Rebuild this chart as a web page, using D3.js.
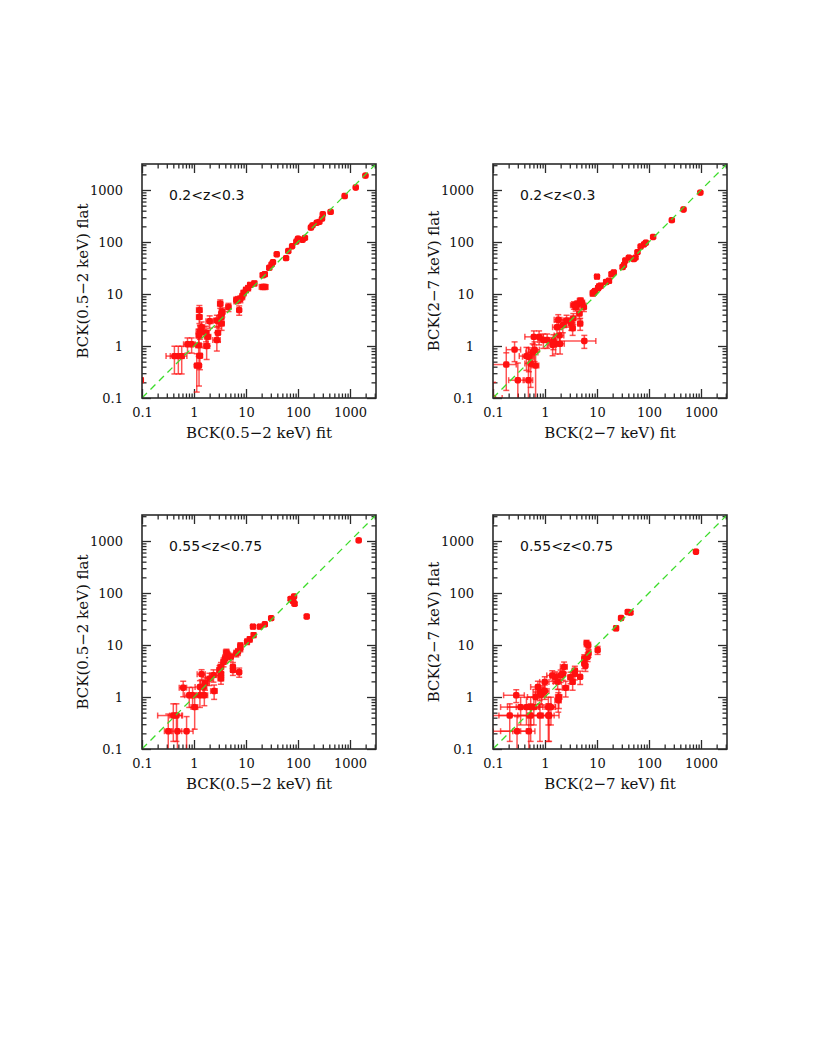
<!DOCTYPE html>
<html>
<head>
<meta charset="utf-8">
<script src="https://cdn.jsdelivr.net/npm/d3@7"></script>
<style>
  body { margin: 0; background: #fff; }
</style>
</head>
<body>
<div id="chart"></div>
<script>
//---------------- page size -----------------//
var width = 817
var height = 1058
var size = 234      // side of each square panel
//--------------------------------------------//

//---------------- axis ticks ----------------//
var majorTicks = [0.1, 1, 10, 100, 1000];
var tickLabels = ['0.1', '1', '10', '100', '1000'];
//--------------------------------------------//

//---------- panel 1 : 0.2<z<0.3, 0.5-2 keV -----------//
var p1Fit = [1980,1290,790,424,300,290,257,230,190,177,136,122,100,93,77,65,59,39,33,31,28,23,21,23,21,14.5,12,11,10,9,8.5,7.8,7,6.5,7.4,4.6,3.5,3.2,3.4,3.3,3.0,2.75,3.4,2.75,2.9,2.0,1.7,1.85,1.75,1.4,1.27,1.27,1.3,1.25,1.23,1.3,1.13,1.25,0.9,0.75,0.58,0.5,0.42,0.095];
var p1Flat = [1890,1120,765,380,343,282,244,235,209,190,120,110,116,102,83,67,49,58,41,37,32,24,23,13.7,13.7,16,15,13,12,10.5,9,8,7.8,7.6,4.9,5.6,4.5,6.5,4.2,3.6,3.0,3.1,2.7,1.3,1.8,3.0,1.8,1.5,1.0,2.3,4.9,3.6,1.9,1.6,1.03,0.65,0.42,0.42,1.08,1.08,0.64,0.64,0.64,0.22];
var p1FitErr = [20,15,10,6,5,5,4,4,3,3,3,3,2.5,2.5,2,2,2,1.5,1.5,1.5,1.3,2,2,3.5,3,1.2,1,1,1,0.9,0.8,0.7,0.7,0.6,0.6,0.5,0.4,0.35,0.4,0.4,0.35,0.35,0.4,0.45,0.3,0.3,0.25,0.25,0.25,0.2,0.15,0.15,0.2,0.15,0.15,0.15,0.1,0.1,0.15,0.12,0.15,0.15,0.13,0.01];
var p1FlatErr = [25,20,12,8,8,7,6,6,5,5,4,4,4,4,3,3,3,3,2.5,2.5,2.5,2,2,1.5,1.5,1.6,1.5,1.5,1.4,1.3,1.2,1.2,1.1,1.1,1,1,0.9,1.2,0.9,0.8,0.8,0.8,0.7,0.5,0.6,0.8,0.6,0.5,0.45,0.6,1.1,0.9,0.55,0.5,0.4,0.3,0.29,0.25,0.35,0.35,0.35,0.35,0.35,0.02];

//---------- panel 2 : 0.2<z<0.3, 2-7 keV -----------//
var p2Fit = [970,461,275,120,87,80,69,60,55,51,41,35,33,31,21,19,17,15,10,11.8,11,10.5,9.2,8.7,8.3,4.8,5.7,4.75,4.6,4.2,3.6,5.2,5.6,3.9,3.5,3.2,3.4,2.6,2.2,1.8,1.7,1.9,1.95,1.6,1.4,1.45,1.1,0.93,0.77,0.61,0.63,0.58,0.44,0.49,0.53,0.66,0.48,0.3,0.26,0.18,0.1];
var p2Flat = [890,423,263,125,97,90,82,64,50,47,50,44,36,33,26,24,18,17,21.6,14.5,14,13,11.4,10.7,10.3,7.4,1.25,2.7,4.2,6.4,6.1,6.6,5.6,5.6,3.4,2.7,2.2,3.1,2.5,3.2,2.3,1.6,1.1,1.1,1.05,1.25,1.3,1.3,1.5,1.5,0.85,0.75,0.64,0.62,0.46,0.42,0.22,0.22,0.85,0.44,0.1];
var p2FitErr = [20,10,6,4,3,3,3,3,2.5,2.5,2,2,2,2,1.5,1.5,1.3,1.2,0.8,1,1,1,0.9,0.8,0.8,0.6,3.8,0.5,0.5,0.5,0.5,0.5,0.5,0.4,0.4,0.4,0.4,0.35,0.35,0.3,0.3,0.4,0.4,0.3,0.25,0.25,0.3,0.2,0.15,0.2,0.15,0.15,0.12,0.12,0.12,0.1,0.1,0.1,0.08,0.1,0.05];
var p2FlatErr = [25,12,8,5,4,4,4,3,3,3,3,3,2.5,2.5,2,2,1.6,1.5,1.8,1.4,1.4,1.3,1.2,1.2,1.2,1,0.35,0.7,0.9,1,1,1,1,0.9,0.8,0.7,0.6,0.8,0.7,0.8,0.6,0.5,0.4,0.4,0.4,0.4,0.4,0.4,0.45,0.45,0.35,0.35,0.3,0.3,0.3,0.35,0.25,0.25,0.35,0.3,0.1];

//---------- panel 3 : 0.55<z<0.75, 0.5-2 keV -----------//
var p3Fit = [1470,147,84,72,81,86,78,30.5,23,18.4,13.6,14,11.8,10.5,7.8,7.8,7,6.5,7.4,5.6,5.6,5.1,4.4,4.2,3.95,3.7,3.3,3.1,3.3,3.3,2.37,2.44,1.98,1.63,1.4,1.5,1.3,1.58,1.3,0.94,0.81,1.03,0.62,0.46,0.4,0.32,0.48,0.72];
var p3Flat = [1030,35.3,86,77,69,62,72,32.8,25,22.6,22.6,15.5,12.9,11.6,9.7,8.6,7.4,6.9,3.0,3.3,3.8,5.9,6.4,7.2,5.5,4.7,3.8,3.3,2.8,2.26,2.63,1.3,2.26,1.85,2.75,1.56,1.56,1.08,1.08,1.08,1.08,0.64,1.51,0.44,0.44,0.22,0.22,0.22];
var p3FitErr = [25,5,3,3,3,3,3,1.5,1.3,1,1,1,0.9,0.8,0.7,0.7,0.6,0.6,0.6,0.5,0.5,0.5,0.5,0.5,0.4,0.4,0.4,0.35,0.4,0.4,0.35,0.35,0.3,0.3,0.25,0.25,0.25,0.25,0.2,0.15,0.15,0.15,0.1,0.12,0.2,0.05,0.1,0.24];
var p3FlatErr = [30,2,5,5,4,4,4,2.5,2,2,2,1.6,1.5,1.4,1.3,1.2,1.1,1,0.6,0.7,0.8,1,1,1.1,0.9,0.9,0.8,0.7,0.7,0.5,0.7,0.4,0.6,0.5,0.6,0.5,0.5,0.4,0.45,0.45,0.45,0.4,0.5,0.3,0.3,0.25,0.25,0.2];

//---------- panel 4 : 0.55<z<0.75, 2-7 keV -----------//
var p4Fit = [800,44,39,29,23.3,10.3,6.3,6.8,6.9,6.6,5.7,5.7,6.0,4.75,3.75,3.75,3.4,3.1,2.33,2.2,2.0,1.56,1.38,1.75,2.5,1.8,1.85,0.99,0.73,0.79,0.66,0.85,0.99,0.61,0.53,0.44,0.34,0.28,0.21,0.53,0.8,1.16,1.2,0.29,0.49,0.09,1.16,1.3];
var p4Flat = [622,42,43,33,21,8,10.8,9.8,6.9,5.9,5.5,4.4,4.0,2.44,2.83,3.2,1.95,2.4,3.8,2.8,2.6,2.44,2.6,1.95,1.5,0.86,1.0,1.95,1.56,1.25,1.0,1.1,1.3,0.64,0.64,0.64,0.64,1.08,0.44,0.44,0.44,0.44,0.44,0.22,0.22,0.22,0.64,0.64];
var p4FitErr = [25,2,2,1.5,1.2,0.6,0.5,0.5,0.5,0.5,0.5,0.5,0.5,0.4,0.4,0.4,0.35,0.35,0.35,0.3,0.3,0.3,0.3,0.3,0.35,0.25,0.25,0.2,0.2,0.2,0.2,0.2,0.2,0.3,0.25,0.25,0.2,0.12,0.25,0.4,0.5,0.7,0.3,0.15,0.15,0.15,0.4,0.3];
var p4FlatErr = [25,3,3,2.5,2,1.4,1.5,1.5,1.1,1.1,1,0.9,0.9,0.7,0.7,0.7,0.6,0.6,0.9,0.7,0.7,0.6,0.6,0.55,0.5,0.35,0.4,0.5,0.45,0.4,0.4,0.4,0.4,0.35,0.35,0.35,0.35,0.3,0.3,0.3,0.3,0.3,0.3,0.2,0.2,0.2,0.35,0.35];
//------------------------------------------------------//

var panels = [
  {left: 142, top: 164, fit: p1Fit, flat: p1Flat, fitErr: p1FitErr, flatErr: p1FlatErr, band: '0.5\u22122 keV', zlab: '0.2<z<0.3'},
  {left: 493, top: 164, fit: p2Fit, flat: p2Flat, fitErr: p2FitErr, flatErr: p2FlatErr, band: '2\u22127 keV', zlab: '0.2<z<0.3'},
  {left: 142, top: 515, fit: p3Fit, flat: p3Flat, fitErr: p3FitErr, flatErr: p3FlatErr, band: '0.5\u22122 keV', zlab: '0.55<z<0.75'},
  {left: 493, top: 515, fit: p4Fit, flat: p4Flat, fitErr: p4FitErr, flatErr: p4FlatErr, band: '2\u22127 keV', zlab: '0.55<z<0.75'}
];

//-------------------svg element ---------------//
var svg = d3.select('#chart').append('svg')
            .attr('width', width)
            .attr('height', height)
            .style('background', '#fff');

var frameColor = '#2b2b2b';
var red = '#ff1010';

panels.forEach(function(p, k){
  var x = d3.scaleLog().domain([0.1, 3162.3]).range([0, size]);
  var y = d3.scaleLog().domain([0.1, 3162.3]).range([size, 0]);
  var minor = x.ticks().filter(function(t){ return majorTicks.indexOf(t) < 0; });

  var g = svg.append('g').attr('transform', 'translate(' + p.left + ',' + p.top + ')');

  g.append('clipPath').attr('id', 'clip' + k)
    .append('rect').attr('width', size).attr('height', size);

  //---------- ticks (inward, all four sides) ----------//
  function addAxis(gen, scale, vals, len, tr, labels, pad){
    var a = gen(scale).tickValues(vals).tickSizeInner(-len).tickSizeOuter(0).tickPadding(pad || 3)
          .tickFormat(labels ? function(d, i){ return labels[i]; } : '');
    var ax = g.append('g').attr('transform', tr).call(a);
    ax.select('.domain').remove();
    ax.selectAll('line').attr('stroke', frameColor).attr('stroke-width', 1.3);
    ax.selectAll('text').attr('fill', '#111')
      .style('font-family', '"DejaVu Serif", serif').style('font-size', '13px');
  }
  addAxis(d3.axisBottom, x, majorTicks, 9, 'translate(0,' + size + ')', tickLabels, 10);
  addAxis(d3.axisBottom, x, minor, 4.5, 'translate(0,' + size + ')');
  addAxis(d3.axisTop, x, majorTicks, 9, 'translate(0,0)');
  addAxis(d3.axisTop, x, minor, 4.5, 'translate(0,0)');
  addAxis(d3.axisLeft, y, majorTicks, 9, 'translate(0,0)', tickLabels, 19);
  addAxis(d3.axisLeft, y, minor, 4.5, 'translate(0,0)');
  addAxis(d3.axisRight, y, majorTicks, 9, 'translate(' + size + ',0)');
  addAxis(d3.axisRight, y, minor, 4.5, 'translate(' + size + ',0)');

  //---------- data points with error bars ----------//
  var pts = p.fit.map(function(v, i){
    return {x: v, y: p.flat[i], ex: p.fitErr[i], ey: p.flatErr[i]};
  });
  var plot = g.append('g').attr('clip-path', 'url(#clip' + k + ')');
  var lo = function(v, e){ return Math.max(v - e, 0.001); };

  var eb = plot.append('g').attr('stroke', red).attr('stroke-width', 1.5).attr('stroke-opacity', 0.72);
  pts.forEach(function(d){
    var cx = x(d.x), cy = y(d.y);
    var x0 = x(lo(d.x, d.ex)), x1 = x(d.x + d.ex);
    var y0 = y(lo(d.y, d.ey)), y1 = y(d.y + d.ey);
    eb.append('line').attr('x1', x0).attr('x2', x1).attr('y1', cy).attr('y2', cy);
    eb.append('line').attr('x1', cx).attr('x2', cx).attr('y1', y0).attr('y2', y1);
    eb.append('line').attr('x1', x0).attr('x2', x0).attr('y1', cy - 3).attr('y2', cy + 3);
    eb.append('line').attr('x1', x1).attr('x2', x1).attr('y1', cy - 3).attr('y2', cy + 3);
    eb.append('line').attr('x1', cx - 3).attr('x2', cx + 3).attr('y1', y0).attr('y2', y0);
    eb.append('line').attr('x1', cx - 3).attr('x2', cx + 3).attr('y1', y1).attr('y2', y1);
  });

  plot.selectAll('rect.pt').data(pts).enter().append('rect')
    .attr('class', 'pt')
    .attr('x', function(d){ return x(d.x) - 3.2; })
    .attr('y', function(d){ return y(d.y) - 3.2; })
    .attr('width', 6.4).attr('height', 6.4).attr('rx', 1.8)
    .attr('fill', red);

  //---------- one-to-one dashed line ----------//
  plot.append('line')
    .attr('x1', x(0.1)).attr('y1', y(0.1))
    .attr('x2', x(3162.3)).attr('y2', y(3162.3))
    .attr('stroke', '#3cdc2a').attr('stroke-width', 1.3)
    .attr('stroke-dasharray', '7,5');

  //---------- frame ----------//
  g.append('rect').attr('width', size).attr('height', size)
    .attr('fill', 'none').attr('stroke', frameColor).attr('stroke-width', 1.6);

  //---------- texts ----------//
  g.append('text').attr('x', 27).attr('y', 36)
    .style('font-family', '"DejaVu Sans", sans-serif').style('font-size', '14px')
    .attr('fill', '#111').text(p.zlab);

  g.append('text').attr('x', size / 2).attr('y', size + 39.5)
    .attr('text-anchor', 'middle')
    .style('font-family', '"DejaVu Serif", serif').style('font-size', '15px')
    .attr('fill', '#111').text('BCK(' + p.band + ') fit');

  g.append('text')
    .attr('transform', 'translate(-59,' + (size / 2) + ') rotate(-90)')
    .attr('text-anchor', 'middle').attr('dominant-baseline', 'central')
    .style('font-family', '"DejaVu Serif", serif').style('font-size', '15px')
    .attr('fill', '#111').text('BCK(' + p.band + ') flat');
});
</script>
</body>
</html>
